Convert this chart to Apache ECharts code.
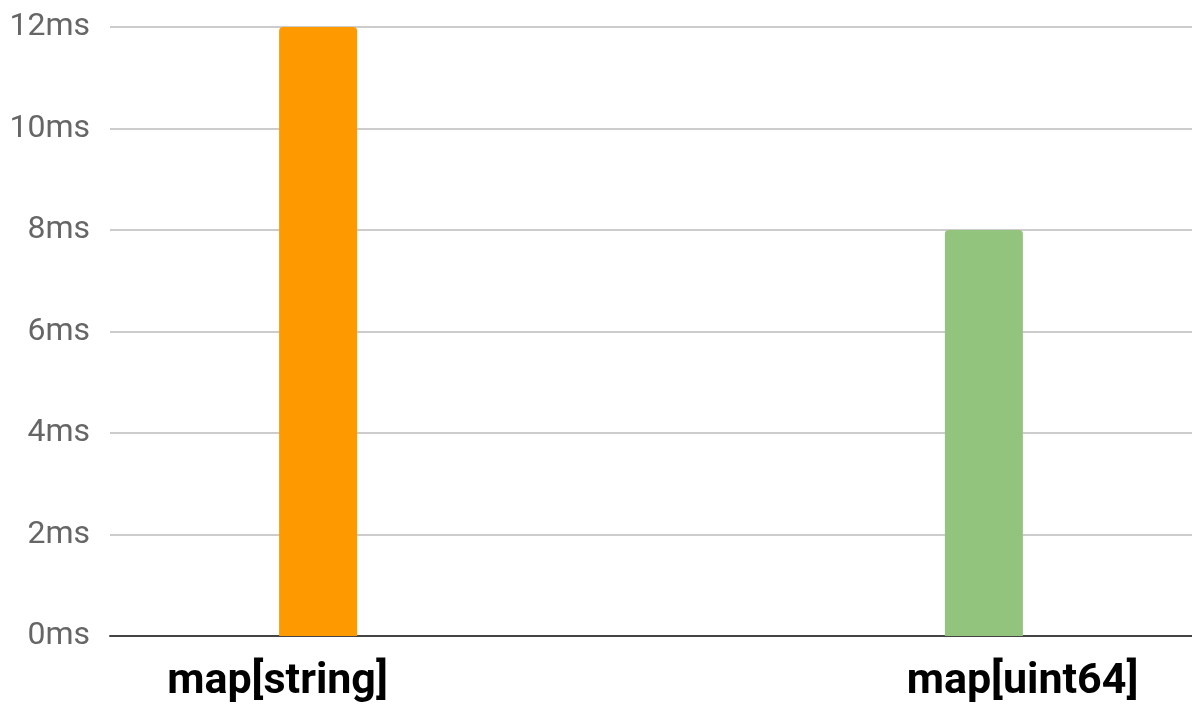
<!DOCTYPE html>
<html>
<head>
<meta charset="utf-8">
<script src="https://cdn.jsdelivr.net/npm/echarts@6/dist/echarts.min.js"></script>
<style>
  html, body { margin: 0; padding: 0; background: #fff; }
  #chart { width: 1192px; height: 714px; }
</style>
</head>
<body>
<div id="chart"></div>
<script>
// data
const categories = ['map[string]', 'map[uint64]'];
const stringTimes = [12, null];
const uint64Times = [null, 8];
const yTicks = { min: 0, max: 12, interval: 2 };

const chart = echarts.init(document.getElementById('chart'));

const option = {
  animation: false,
  grid: { left: 110, right: 0, top: 27, bottom: 78 },
  xAxis: {
    type: 'category',
    data: [
      { value: categories[0], textStyle: { padding: [0, 206, 0, 0] } },
      { value: categories[1], textStyle: { padding: [0, 0, 0, 202] } }
    ],
    axisLine: { lineStyle: { color: '#444', width: 2 } },
    axisTick: { show: false },
    axisLabel: {
      margin: 25,
      color: '#000',
      fontFamily: 'Roboto',
      fontWeight: 'bold',
      fontSize: 43
    }
  },
  yAxis: {
    type: 'value',
    min: yTicks.min,
    max: yTicks.max,
    interval: yTicks.interval,
    axisLine: { show: false },
    axisTick: { show: false },
    splitLine: { lineStyle: { color: '#ccc', width: 2 } },
    axisLabel: {
      margin: 20,
      color: '#666',
      fontFamily: 'Roboto',
      fontSize: 32,
      formatter: '{value}ms'
    }
  },
  series: [
    {
      name: 'map[string]',
      type: 'bar',
      data: stringTimes,
      barWidth: 78,
      barGap: '60%',
      itemStyle: { color: '#FF9900', borderRadius: [4, 4, 0, 0] }
    },
    {
      name: 'map[uint64]',
      type: 'bar',
      data: uint64Times,
      barWidth: 78,
      barGap: '60%',
      itemStyle: { color: '#93C47D', borderRadius: [4, 4, 0, 0] }
    }
  ]
};

chart.setOption(option);
</script>
</body>
</html>
